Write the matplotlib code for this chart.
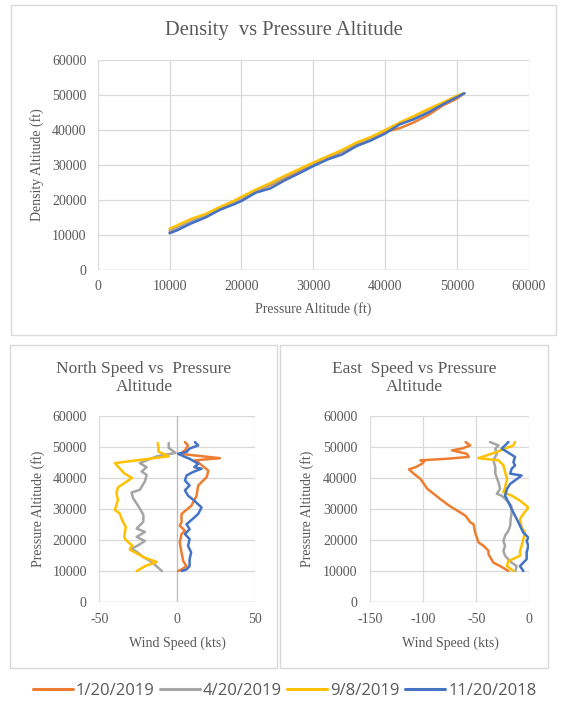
import matplotlib
matplotlib.use("Agg")
import matplotlib.pyplot as plt
from matplotlib.patches import Rectangle

plt.rcParams["axes.unicode_minus"] = False

# ---------------- data ----------------
series_names = ["1/20/2019", "4/20/2019", "9/8/2019", "11/20/2018"]
colors = ["#ED7D31", "#A5A5A5", "#FFC000", "#4472C4"]

# Density vs Pressure altitude
pa_density = [10000, 11000, 13000, 15000, 17000, 19000, 20000, 22000, 24000, 26000, 28000, 30000,
              32000, 34000, 36000, 38000, 40000, 42000, 44000, 46000, 48000, 50000, 51000]
da_jan = [10800, 11600, 13700, 15300, 17500, 19200, 20100, 22500, 24200, 26200, 28100, 30300,
          32000, 33800, 35900, 37600, 39500, 40500, 42200, 44300, 47000, 49000, 50500]
da_apr = [11300, 12000, 13900, 15500, 17700, 19500, 20500, 22600, 24500, 26600, 28600, 30500,
          32400, 34000, 36200, 37800, 39800, 42000, 43800, 45800, 47700, 49600, 50500]
da_sep = [11800, 12700, 14600, 16000, 18000, 19800, 20900, 23000, 24800, 26900, 28800, 30700,
          32500, 34300, 36400, 38000, 40000, 42100, 44000, 46000, 47800, 49800, 50500]
da_nov = [10500, 11300, 13300, 15000, 17200, 18800, 19700, 22100, 23300, 25600, 27600, 29700,
          31600, 33000, 35400, 37000, 39000, 41600, 43100, 45000, 47300, 49400, 50500]

# North speed (kts) vs pressure altitude (ft)
north_jan_alt = [10000, 10500, 11600, 13200, 16000, 19200, 21900, 23000, 24600, 25700, 28400, 31100,
                 34300, 37600, 40300, 42400, 44600, 45700, 46400, 47800, 48900, 50500, 51600]
north_jan_kts = [0.6, 2.8, 6, 3.9, 2.8, 1.7, 2.8, 5, 1.7, 2.8, 2.8, 9.2,
                 12.5, 13.5, 19, 20, 14.6, 11.4, 27.5, 1.7, 5, 7, 5]
north_apr_alt = [10000, 12900, 14500, 16200, 17200, 18300, 19700, 21000, 22600, 23700, 25900, 28100,
                 30200, 33500, 35300, 36200, 38900, 41000, 42100, 43500, 44800, 47000, 48100, 49700, 51300]
north_apr_kts = [-9.8, -16.3, -21.7, -26, -29.3, -25, -20.7, -26, -20.7, -26, -21.7, -21.7,
                 -24, -28.3, -29.3, -24, -20.7, -19.6, -22.8, -19.6, -24, -13, -1, -5.4, -5.4]
north_sep_alt = [10000, 11800, 12900, 14500, 16900, 18300, 20000, 21000, 24300, 26000, 28600, 29700,
                 33000, 35000, 37000, 40000, 41500, 44800, 47000, 48500, 50000, 51300]
north_sep_kts = [-26, -19.6, -13, -21.7, -30.4, -29, -33, -34, -33, -35, -37, -40,
                 -38, -39, -38, -29, -34, -40, -5.4, -12, -12, -12.5]
north_nov_alt = [10000, 10500, 11600, 13800, 16000, 18100, 20300, 21900, 23500, 25100, 26800, 28400,
                 30500, 32700, 34300, 36000, 37600, 39200, 40800, 41900, 43000, 43500, 44600, 46200,
                 46800, 47800, 48400, 49500, 50500, 51600]
north_nov_kts = [3, 6, 8, 8, 9, 7, 8, 5, 8, 6, 10, 13.5,
                 15.7, 11, 7, 5, 8, 5, 6, 10, 15.7, 11, 13.5, 8,
                 5, 0.6, 6, 8, 13.5, 11.4]

# East speed (kts) vs pressure altitude (ft)
east_jan_alt = [10000, 11600, 12700, 15400, 16500, 18100, 19200, 22400, 25100, 25700, 27800, 28900,
                30500, 31600, 33200, 34900, 36500, 39700, 41400, 42800, 43500, 44600, 45400, 45700,
                46200, 46800, 47800, 48900, 49500, 50500, 51600]
east_jan_kts = [-19.7, -27.5, -33.8, -38.4, -38.4, -43, -47.8, -51, -52.5, -55.6, -60, -65,
                -72.8, -77.5, -83.8, -90, -96, -102.5, -108.8, -113.4, -107, -101, -99, -102.5,
                -77.5, -57, -58.8, -72.8, -63.4, -55.6, -60]
east_apr_alt = [10000, 11600, 12700, 14900, 16500, 18100, 19700, 21400, 23000, 24600, 26800, 28900,
                31100, 32700, 34300, 34900, 36500, 38600, 41400, 43500, 45700, 47800, 49500, 50500, 51600]
east_apr_kts = [-13, -12, -16.6, -22.8, -24.4, -22.8, -24.4, -22.8, -19.7, -18, -17.5, -16.6,
                -17, -21, -26, -30.6, -27.5, -29, -32, -32, -33.8, -30.6, -32, -29, -36.9]
east_sep_alt = [10000, 11600, 13200, 14900, 16500, 18100, 20300, 22400, 24000, 26800, 28400, 30500,
                32700, 34300, 35400, 37000, 39700, 41900, 44100, 45700, 46400, 48400, 49500, 50500, 51600]
east_sep_kts = [-15, -21, -19.7, -8.75, -8.75, -7.2, -5.6, -4, -7.2, -8.75, -5.6, -0.9,
                -8.75, -16.6, -24.4, -22.8, -21, -22.8, -24.4, -29, -48, -30.6, -22.8, -15, -13.4]
east_nov_alt = [10000, 11600, 12700, 13800, 16000, 18100, 19700, 20800, 22400, 23500, 25700, 27800,
                30000, 32200, 34300, 36500, 38100, 40800, 41400, 43000, 44100, 45100, 46800, 47800,
                49500, 50500, 51600]
east_nov_kts = [-5.6, -8.75, -5.6, -2.5, -2.5, -0.9, -2.5, -0.9, -5.6, -7.2, -10.3, -13.4,
                -16.6, -19.7, -22.8, -21, -18, -7.2, -18, -16.6, -13.4, -15, -13.4, -18,
                -26, -22.8, -19.7]

# ---------------- styling ----------------
TXT = "#595959"
GRID = "#D9D9D9"
SERIF = ["Liberation Serif", "DejaVu Serif"]
W, H = 561, 702

fig = plt.figure(figsize=(W / 100, H / 100), dpi=100)
fig.patch.set_facecolor("white")


def fx(px):
    return px / W


def fy(py):
    return 1 - py / H


def box(x0, y0, x1, y1):
    fig.add_artist(Rectangle((fx(x0), fy(y1)), fx(x1) - fx(x0), fy(y0) - fy(y1),
                             transform=fig.transFigure, fill=False, edgecolor=GRID, lw=1.0))


def make_axes(x0, y0, x1, y1):
    return fig.add_axes([fx(x0), fy(y1), fx(x1) - fx(x0), fy(y0) - fy(y1)])


def style(ax, xlim, xticks, ylim, yticks, xpad, ypad):
    ax.set_xlim(*xlim)
    ax.set_ylim(*ylim)
    ax.set_xticks(xticks)
    ax.set_yticks(yticks)
    for s in ax.spines.values():
        s.set_visible(False)
    ax.grid(True, color=GRID, lw=0.9)
    ax.set_axisbelow(True)
    ax.tick_params(length=0, labelcolor=TXT, labelsize=10)
    ax.tick_params(axis="x", pad=xpad)
    ax.tick_params(axis="y", pad=ypad)
    for lab in ax.get_xticklabels() + ax.get_yticklabels():
        lab.set_family(SERIF)
    ax.axhline(0, color="#BFBFBF", lw=0.9, zorder=1)


LW = 1.8

# ---- top chart ----
box(11, 5, 556, 335)
ax1 = make_axes(97.7, 60, 529, 270)
for da, c in zip([da_jan, da_apr, da_sep, da_nov], colors):
    ax1.plot(pa_density, da, color=c, lw=LW, solid_capstyle="round")
style(ax1, (0, 60000), range(0, 60001, 10000), (0, 60000), range(0, 60001, 10000), 7, 8)
fig.text(fx(284), fy(30), "Density  vs Pressure Altitude", ha="center", va="center",
         family=SERIF, fontsize=14.8, color=TXT)
fig.text(fx(313), fy(309), "Pressure Altitude (ft)", ha="center", va="center",
         family=SERIF, fontsize=10, color=TXT)
fig.text(fx(37), fy(165), "Density Altitude (ft)", ha="center", va="center", rotation=90,
         family=SERIF, fontsize=10, color=TXT)

# ---- north chart ----
box(10, 345, 277, 668)
ax2 = make_axes(99.3, 416, 255, 602)
north = [(north_jan_kts, north_jan_alt), (north_apr_kts, north_apr_alt),
         (north_sep_kts, north_sep_alt), (north_nov_kts, north_nov_alt)]
for (k, a), c in zip(north, colors):
    ax2.plot(k, a, color=c, lw=LW, solid_capstyle="round")
style(ax2, (-50, 50), [-50, 0, 50], (0, 60000), range(0, 60001, 10000), 8, 9)
ax2.axvline(0, color="#BFBFBF", lw=0.9, zorder=1)
fig.text(fx(144), fy(378), "North Speed vs  Pressure\nAltitude", ha="center", va="center",
         family=SERIF, fontsize=12.5, color=TXT, linespacing=1.12)
fig.text(fx(177), fy(643), "Wind Speed (kts)", ha="center", va="center",
         family=SERIF, fontsize=10, color=TXT)
fig.text(fx(38), fy(509), "Pressure Altitude (ft)", ha="center", va="center", rotation=90,
         family=SERIF, fontsize=10, color=TXT)

# ---- east chart ----
box(280, 345, 548, 668)
ax3 = make_axes(370, 416, 529.3, 602)
east = [(east_jan_kts, east_jan_alt), (east_apr_kts, east_apr_alt),
        (east_sep_kts, east_sep_alt), (east_nov_kts, east_nov_alt)]
for (k, a), c in zip(east, colors):
    ax3.plot(k, a, color=c, lw=LW, solid_capstyle="round")
style(ax3, (-150, 0), [-150, -100, -50, 0], (0, 60000), range(0, 60001, 10000), 8, 9)
fig.text(fx(414), fy(378), "East  Speed vs Pressure\nAltitude", ha="center", va="center",
         family=SERIF, fontsize=12.5, color=TXT, linespacing=1.12)
fig.text(fx(450), fy(643), "Wind Speed (kts)", ha="center", va="center",
         family=SERIF, fontsize=10, color=TXT)
fig.text(fx(306.7), fy(509), "Pressure Altitude (ft)", ha="center", va="center", rotation=90,
         family=SERIF, fontsize=10, color=TXT)

# ---- legend ----
handles = ax1.get_lines()
leg = fig.legend(handles, series_names, loc="center", bbox_to_anchor=(fx(284.5), fy(691)),
                 ncol=4, frameon=False, handlelength=2.4, handletextpad=0.2,
                 columnspacing=0.3, prop={"family": "Open Sans", "size": 12})
for t in leg.get_texts():
    t.set_color(TXT)
for l in leg.get_lines():
    l.set_linewidth(2.2)

fig.savefig("out.png", dpi=100, facecolor="white")
